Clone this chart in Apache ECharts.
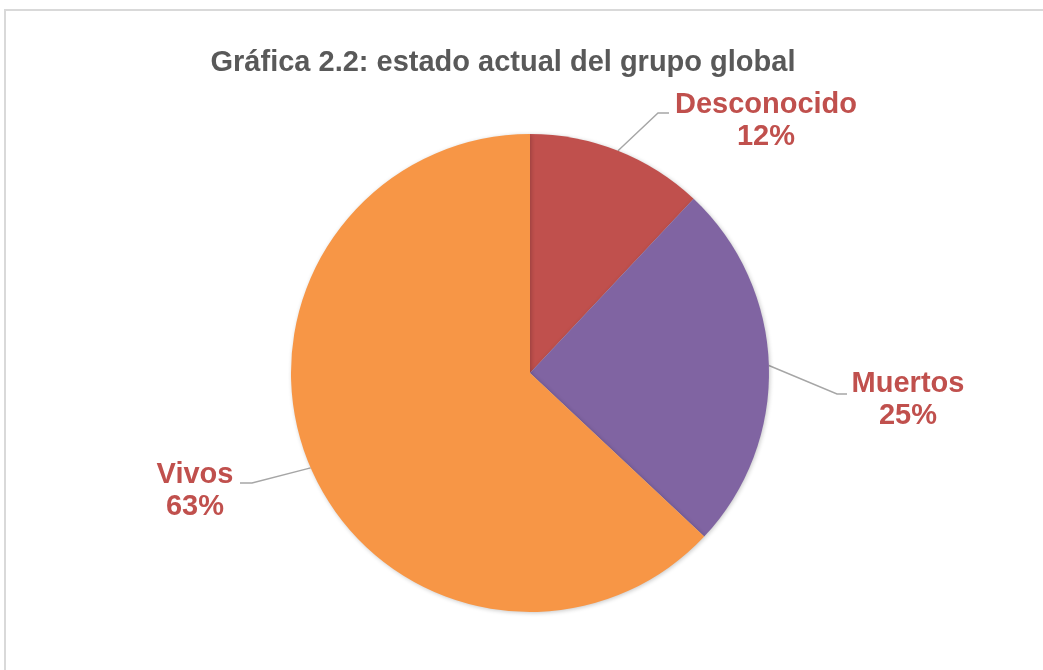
<!DOCTYPE html>
<html>
<head>
<meta charset="utf-8">
<script src="https://cdn.jsdelivr.net/npm/echarts@6/dist/echarts.min.js"></script>
<style>
  html, body { margin: 0; padding: 0; background: #ffffff; }
  #chart { width: 1043px; height: 670px; }
</style>
</head>
<body>
<div id="chart"></div>
<script>
// Estado actual del grupo global (porcentaje)
const categories = ['Desconocido', 'Muertos', 'Vivos'];
const percentages = [12, 25, 63];

const sliceColors = ['#c0504d', '#8064a2', '#f79646'];
const titleText = 'Gráfica 2.2: estado actual del grupo global';

// Pie geometry (pixels)
const pieCenter = [530, 373];
const pieRadius = 239;

// Elbow and end of each leader line, and the centre of its label block
const labelPlacement = [
  { elbow: [658, 113], end: [669, 113], text: [766, 121] },
  { elbow: [837, 394], end: [847, 394], text: [908, 400] },
  { elbow: [252, 483], end: [240, 483], text: [195, 491] }
];

// Fallback: point on the rim at the middle of a slice
function rimPoint(index) {
  const total = percentages.reduce((a, b) => a + b, 0);
  let before = 0;
  for (let i = 0; i < index; i++) before += percentages[i];
  const mid = (before + percentages[index] / 2) / total * Math.PI * 2;
  return [pieCenter[0] + pieRadius * Math.sin(mid), pieCenter[1] - pieRadius * Math.cos(mid)];
}

const chart = echarts.init(document.getElementById('chart'), null, { renderer: 'canvas' });

chart.setOption({
  animation: false,
  backgroundColor: '#ffffff',
  graphic: [
    {
      type: 'rect',
      silent: true,
      shape: { x: 5, y: 10, width: 1100, height: 720 },
      style: { fill: null, stroke: '#d9d9d9', lineWidth: 2 }
    },
    {
      type: 'text',
      silent: true,
      style: {
        text: titleText,
        x: 503,
        y: 63,
        align: 'center',
        verticalAlign: 'middle',
        fill: '#595959',
        font: 'bold 29px "Liberation Sans", Arial, sans-serif'
      }
    }
  ],
  series: [
    {
      type: 'pie',
      center: pieCenter,
      radius: pieRadius,
      startAngle: 90,
      clockwise: true,
      avoidLabelOverlap: false,
      emphasis: { disabled: true },
      itemStyle: {
        borderWidth: 0,
        shadowBlur: 4,
        shadowColor: 'rgba(0,0,0,0.22)',
        shadowOffsetX: 1,
        shadowOffsetY: 1
      },
      label: {
        show: true,
        position: 'outside',
        formatter: p => p.name + '\n' + p.value + '%',
        color: '#c0504d',
        fontFamily: '"Liberation Sans", Arial, sans-serif',
        fontWeight: 'bold',
        fontSize: 29,
        lineHeight: 32
      },
      labelLine: {
        show: true,
        length: 20,
        length2: 10,
        lineStyle: { color: '#a6a6a6', width: 1.4 }
      },
      labelLayout: function (params) {
        const place = labelPlacement[params.dataIndex];
        const start = (params.labelLinePoints && params.labelLinePoints[0])
          ? params.labelLinePoints[0]
          : rimPoint(params.dataIndex);
        return {
          x: place.text[0],
          y: place.text[1],
          align: 'center',
          verticalAlign: 'middle',
          labelLinePoints: [start, place.elbow, place.end]
        };
      },
      data: categories.map((name, i) => ({
        name: name,
        value: percentages[i],
        itemStyle: { color: sliceColors[i] }
      }))
    }
  ]
});
</script>
</body>
</html>
